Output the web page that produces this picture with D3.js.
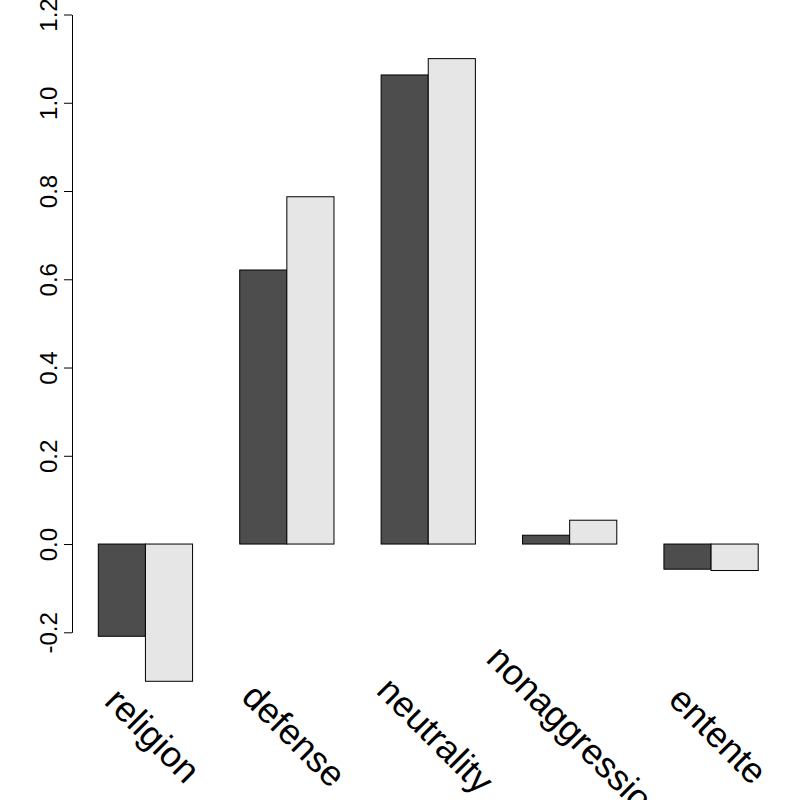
<!DOCTYPE html>
<html>
<head>
<meta charset="utf-8">
<script src="https://cdn.jsdelivr.net/npm/d3@7"></script>
<style>
  body { margin: 0; background: #fff; }
  text { font-family: "Liberation Sans", Arial, sans-serif; }
</style>
</head>
<body>
<script>
// values
const categories = ["religion", "defense", "neutrality", "nonaggression", "entente"];
const seriesA = [-0.209, 0.621, 1.063, 0.020, -0.057];   // dark bars
const seriesB = [-0.311, 0.787, 1.100, 0.054, -0.060];   // light bars
const yTicks = [-0.2, 0.0, 0.2, 0.4, 0.6, 0.8, 1.0, 1.2];
const seriesColors = ["#4d4d4d", "#e6e6e6"];

const W = 800, H = 800;

const svg = d3.select("body")
  .append("svg")
    .attr("width", W)
    .attr("height", H);

svg.append("rect")
  .attr("width", W)
  .attr("height", H)
  .attr("fill", "#fff");

// scales
const x0 = d3.scaleBand()
  .domain(categories)
  .range([98.3, 758.2])
  .paddingInner(1 / 3)
  .paddingOuter(0);

const x1 = d3.scaleBand()
  .domain([0, 1])
  .range([0, x0.bandwidth()]);

const y = d3.scaleLinear()
  .domain([-0.2, 1.2])
  .range([632.3, 14.5]);

// y axis (plain hyphen for negatives, like the original)
const yAxis = svg.append("g")
  .attr("transform", "translate(72,0)")
  .call(d3.axisLeft(y)
    .tickValues(yTicks)
    .tickFormat(d => d.toFixed(1))
    .tickSize(8)
    .tickSizeOuter(0));

yAxis.select(".domain").attr("stroke", "#000");
yAxis.selectAll(".tick line").attr("stroke", "#000");
yAxis.selectAll(".tick text")
  .attr("transform", "rotate(-90)")
  .attr("x", 0)
  .attr("y", -15.5)
  .attr("dy", 0)
  .attr("text-anchor", "middle")
  .attr("font-size", "24px")
  .attr("fill", "#000");

// bars
const rows = categories.map((c, i) => ({ cat: c, vals: [seriesA[i], seriesB[i]] }));

const groups = svg.selectAll("g.group")
  .data(rows)
  .enter()
  .append("g")
    .attr("class", "group")
    .attr("transform", d => `translate(${x0(d.cat)},0)`);

groups.selectAll("rect")
  .data(d => d.vals.map((v, k) => ({ k, v })))
  .enter()
  .append("rect")
    .attr("x", d => x1(d.k))
    .attr("y", d => y(Math.max(0, d.v)))
    .attr("width", x1.bandwidth())
    .attr("height", d => Math.abs(y(d.v) - y(0)))
    .attr("fill", d => seriesColors[d.k])
    .attr("stroke", "#000")
    .attr("stroke-width", 1);

// category labels, rotated 45 degrees (the long one runs off the bottom, as in the original)
svg.selectAll("text.cat")
  .data(categories)
  .enter()
  .append("text")
    .attr("class", "cat")
    .attr("transform", d => `translate(${x0(d) + x0.bandwidth() / 2 - 1.5},744) rotate(45)`)
    .attr("text-anchor", "middle")
    .attr("font-size", "36px")
    .attr("fill", "#000")
    .text(d => d);
</script>
</body>
</html>
